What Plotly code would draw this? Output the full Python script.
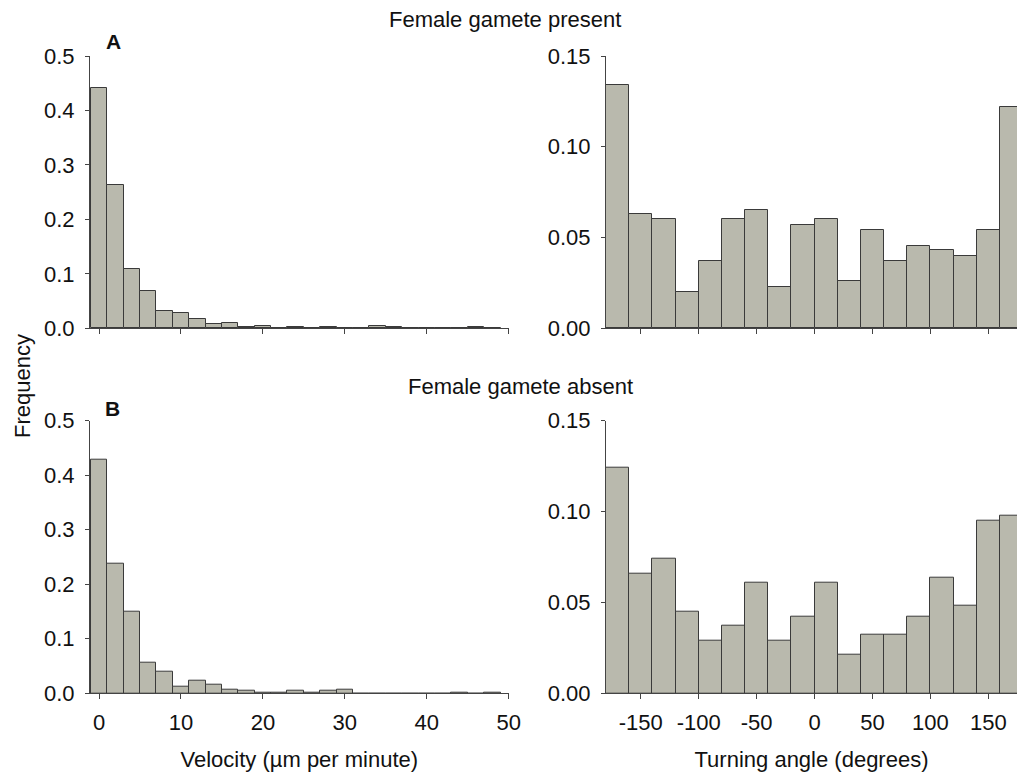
import plotly.graph_objects as go

# ---- data ----
velocity_bins = [0, 2, 4, 6, 8, 10, 12, 14, 16, 18, 20, 22, 24, 26, 28, 30, 32, 34, 36, 38, 40, 42, 44, 46, 48]
velocity_present = [0.442, 0.263, 0.108, 0.068, 0.032, 0.028, 0.017, 0.007, 0.009, 0.002, 0.005, 0.0, 0.002,
                    0.0, 0.002, 0.0, 0.0, 0.005, 0.002, 0.0, 0.0, 0.0, 0.0, 0.002, 0.0]
velocity_absent = [0.428, 0.237, 0.149, 0.057, 0.040, 0.012, 0.023, 0.016, 0.007, 0.005, 0.002, 0.002, 0.004,
                   0.002, 0.004, 0.007, 0.0, 0.0, 0.0, 0.0, 0.0, 0.0, 0.002, 0.0, 0.002]

angle_bins = [-170, -150, -130, -110, -90, -70, -50, -30, -10, 10, 30, 50, 70, 90, 110, 130, 150, 170]
angle_present = [0.134, 0.063, 0.060, 0.020, 0.037, 0.060, 0.065, 0.023, 0.057, 0.060, 0.026, 0.054,
                 0.037, 0.0455, 0.043, 0.040, 0.054, 0.122]
angle_absent = [0.124, 0.066, 0.074, 0.045, 0.029, 0.037, 0.061, 0.029, 0.042, 0.061, 0.021, 0.032,
                0.032, 0.042, 0.0635, 0.048, 0.095, 0.098]

velocity_ticks = [0, 10, 20, 30, 40, 50]
angle_ticks = [-150, -100, -50, 0, 50, 100, 150]
angle_tick_labels = ["-150", "-100", "-50", "0", "50", "100", "150"]
freq_ticks_vel = [0.0, 0.1, 0.2, 0.3, 0.4, 0.5]
freq_ticks_ang = [0.00, 0.05, 0.10, 0.15]

# ---- style ----
FONT = "Liberation Sans, Arial, sans-serif"
BAR_FILL = "#b9b9ad"
BAR_EDGE = "#3a3a3a"
AXIS_COL = "#444444"
TXT = "#111111"
W, H = 1017, 772

fig = go.Figure()

def add_bars(x, y, width, xa, ya):
    fig.add_trace(go.Bar(x=x, y=y, width=width, xaxis=xa, yaxis=ya,
                         marker=dict(color=BAR_FILL, line=dict(color=BAR_EDGE, width=1)),
                         showlegend=False, hoverinfo="x+y"))

add_bars(velocity_bins, velocity_present, 2, "x", "y")
add_bars(angle_bins, angle_present, 20, "x2", "y2")
add_bars(velocity_bins, velocity_absent, 2, "x3", "y3")
add_bars(angle_bins, angle_absent, 20, "x4", "y4")

left_dom = [90 / W, 508.7 / W]
right_dom = [606 / W, 1.0]
top_dom = [(H - 328.3) / H, (H - 56) / H]
bot_dom = [(H - 693.3) / H, (H - 420.7) / H]

def xax(dom, rng, ticks, anchor, labels, title=None, ticktext=None):
    d = dict(domain=dom, range=rng, anchor=anchor, showline=True, linecolor=AXIS_COL, linewidth=1,
             ticks="outside", ticklen=5, tickcolor=AXIS_COL, tickwidth=1, automargin=False,
             tickvals=ticks, showgrid=False, zeroline=False, showticklabels=labels,
             ticklabelstandoff=4,
             tickfont=dict(family=FONT, size=22, color=TXT))
    if ticktext is not None:
        d["ticktext"] = ticktext
    if title:
        d["title"] = dict(text=title, font=dict(family=FONT, size=22, color=TXT), standoff=20)
    return d

def yax(dom, rng, ticks, fmt, anchor):
    return dict(domain=dom, range=rng, anchor=anchor, showline=True, linecolor=AXIS_COL, linewidth=1,
                ticks="outside", ticklen=4, tickcolor=AXIS_COL, tickwidth=1, automargin=False,
                tickvals=ticks, tickformat=fmt, showgrid=False, zeroline=False,
                ticklabelstandoff=6,
                tickfont=dict(family=FONT, size=22, color=TXT))

fig.update_layout(
    width=W, height=H,
    margin=dict(l=0, r=0, t=0, b=0, autoexpand=False),
    paper_bgcolor="white", plot_bgcolor="white",
    bargap=0,
    xaxis=xax(left_dom, [-1.1, 50], velocity_ticks, "y", False),
    yaxis=yax(top_dom, [0, 0.5], freq_ticks_vel, ".1f", "x"),
    xaxis2=xax(right_dom, [-180, 174.7], angle_ticks, "y2", False, ticktext=angle_tick_labels),
    yaxis2=yax(top_dom, [0, 0.15], freq_ticks_ang, ".2f", "x2"),
    xaxis3=xax(left_dom, [-1.1, 50], velocity_ticks, "y3", True, "Velocity (µm per minute)"),
    yaxis3=yax(bot_dom, [0, 0.5], freq_ticks_vel, ".1f", "x3"),
    xaxis4=xax(right_dom, [-180, 174.7], angle_ticks, "y4", True, "Turning angle (degrees)",
               ticktext=angle_tick_labels),
    yaxis4=yax(bot_dom, [0, 0.15], freq_ticks_ang, ".2f", "x4"),
)

def ann(text, x, y, size=22, bold=False, angle=0):
    fig.add_annotation(text=f"<b>{text}</b>" if bold else text, x=x / W, y=1 - y / H,
                       xref="paper", yref="paper", showarrow=False, textangle=angle,
                       xanchor="center", yanchor="middle",
                       font=dict(family=FONT, size=size, color=TXT))

ann("Female gamete present", 505, 20)
ann("Female gamete absent", 520, 386)
ann("Frequency", 22, 386, angle=-90)
ann("A", 113, 42, size=21, bold=True)
ann("B", 112, 408, size=21, bold=True)

fig.write_html("out.html", config={"displayModeBar": False},
               post_script="document.body.style.margin='0';document.body.style.overflow='hidden';"
                           "document.documentElement.style.overflow='hidden';")
